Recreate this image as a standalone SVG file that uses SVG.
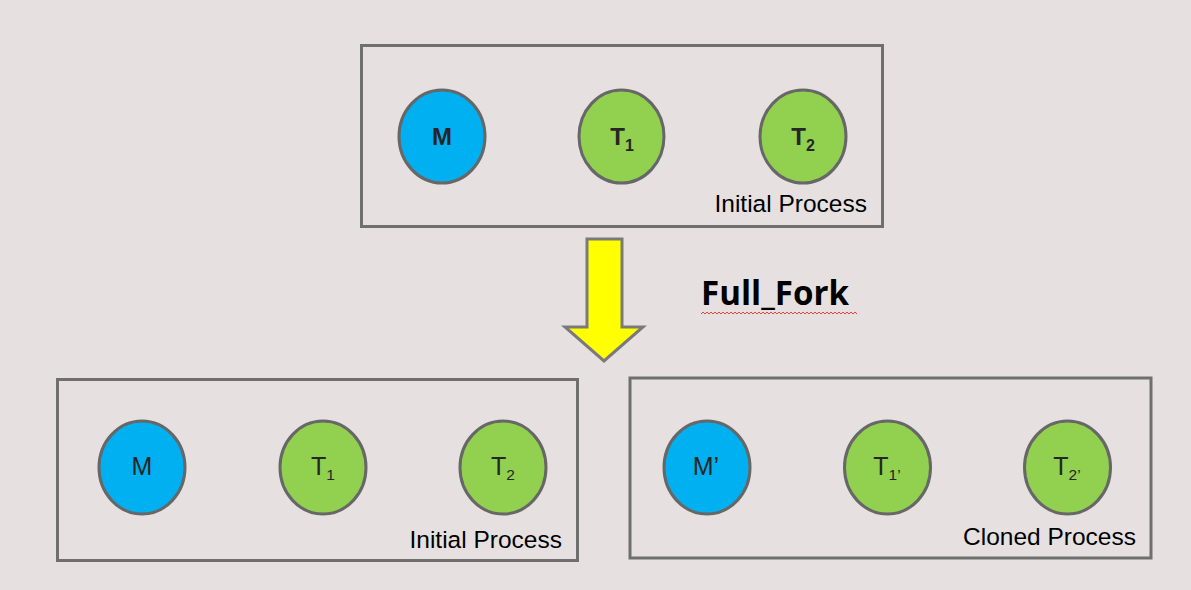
<svg xmlns="http://www.w3.org/2000/svg" width="1191" height="590" viewBox="0 0 1191 590">
  <defs>
    <style>
      .bg { fill: #e6e1e0; }
      .box { fill: none; stroke: #6f6f6f; stroke-width: 3; }
      .m { fill: #00b0f0; stroke: #676767; stroke-width: 3; }
      .t { fill: #92d050; stroke: #676767; stroke-width: 3; }
      .lb { font-family: "Liberation Sans", Arial, sans-serif; font-weight: 700; font-size: 24px; fill: #262626; text-anchor: middle; }
      .lr { font-family: "Liberation Sans", Arial, sans-serif; font-size: 25px; fill: #262626; text-anchor: middle; }
      .cap { font-family: "Liberation Sans", Arial, sans-serif; font-size: 24.5px; fill: #000; text-anchor: end; }
      .title { font-family: "Open Sans", "Noto Sans", sans-serif; font-weight: 700; font-size: 34px; fill: #000; }
      .arrow { fill: #ffff00; stroke: #7a7a7a; stroke-width: 3; stroke-linejoin: miter; }
      .squiggle { fill: none; stroke: #e5443c; stroke-width: 1; }
    </style>
  </defs>
  <rect class="bg" x="0" y="0" width="1191" height="590"/>

  <g id="initial-process-top">
    <rect class="box" x="361.5" y="45.5" width="521" height="181"/>
    <text class="cap" x="867" y="212">Initial Process</text>
  </g>
  <g id="top-M">
    <ellipse class="m" cx="442" cy="136.5" rx="43" ry="46.5"/>
    <text class="lb" x="442" y="145">M</text>
  </g>
  <g id="top-T1">
    <ellipse class="t" cx="621.5" cy="136.5" rx="42.5" ry="46.5"/>
    <text class="lb" x="622" y="145">T<tspan font-size="16" dy="6">1</tspan></text>
  </g>
  <g id="top-T2">
    <ellipse class="t" cx="803" cy="136.5" rx="43" ry="46.5"/>
    <text class="lb" x="803" y="145">T<tspan font-size="16" dy="6">2</tspan></text>
  </g>

  <g id="connectors">
    <polygon class="arrow" points="587,239 622,239 622,327 643,327 604,361 565,327 587,327"/>
  </g>

  <g id="full-fork-label">
    <text class="title" x="701" y="305" textLength="148" lengthAdjust="spacingAndGlyphs">Full_Fork</text>
    <path class="squiggle" d="M701,314 l2,-2 l2,2 l2,-2 l2,2 l2,-2 l2,2 l2,-2 l2,2 l2,-2 l2,2 l2,-2 l2,2 l2,-2 l2,2 l2,-2 l2,2 l2,-2 l2,2 l2,-2 l2,2 l2,-2 l2,2 l2,-2 l2,2 l2,-2 l2,2 l2,-2 l2,2 l2,-2 l2,2 l2,-2 l2,2 l2,-2 l2,2 l2,-2 l2,2 l2,-2 l2,2 l2,-2 l2,2 l2,-2 l2,2 l2,-2 l2,2 l2,-2 l2,2 l2,-2 l2,2 l2,-2 l2,2 l2,-2 l2,2 l2,-2 l2,2 l2,-2 l2,2 l2,-2 l2,2 l2,-2 l2,2 l2,-2 l2,2 l2,-2 l2,2 l2,-2 l2,2 l2,-2 l2,2 l2,-2 l2,2 l2,-2 l2,2 l2,-2 l2,2 l2,-2 l2,2 l2,-2 l2,2"/>
  </g>

  <g id="initial-process-bottom">
    <rect class="box" x="57.5" y="379.5" width="520" height="181"/>
    <text class="cap" x="562" y="548">Initial Process</text>
  </g>
  <g id="bottom-M">
    <ellipse class="m" cx="142" cy="467.5" rx="43" ry="46.5"/>
    <text class="lr" x="142" y="475">M</text>
  </g>
  <g id="bottom-T1">
    <ellipse class="t" cx="323" cy="467.5" rx="43" ry="46.5"/>
    <text class="lr" x="323" y="475">T<tspan font-size="15.5" dy="5">1</tspan></text>
  </g>
  <g id="bottom-T2">
    <ellipse class="t" cx="503" cy="467.5" rx="43" ry="46.5"/>
    <text class="lr" x="503" y="475">T<tspan font-size="15.5" dy="5">2</tspan></text>
  </g>

  <g id="cloned-process">
    <rect class="box" x="630" y="378" width="521" height="180"/>
    <text class="cap" x="1136" y="545">Cloned Process</text>
  </g>
  <g id="clone-M">
    <ellipse class="m" cx="707" cy="467.5" rx="43" ry="46.5"/>
    <text class="lr" x="706" y="475">M’</text>
  </g>
  <g id="clone-T1">
    <ellipse class="t" cx="887.5" cy="467.5" rx="43" ry="46.5"/>
    <text class="lr" x="887" y="475">T<tspan font-size="15.5" dy="5">1’</tspan></text>
  </g>
  <g id="clone-T2">
    <ellipse class="t" cx="1067.5" cy="467.5" rx="43" ry="46.5"/>
    <text class="lr" x="1067" y="475">T<tspan font-size="15.5" dy="5">2’</tspan></text>
  </g>
</svg>
